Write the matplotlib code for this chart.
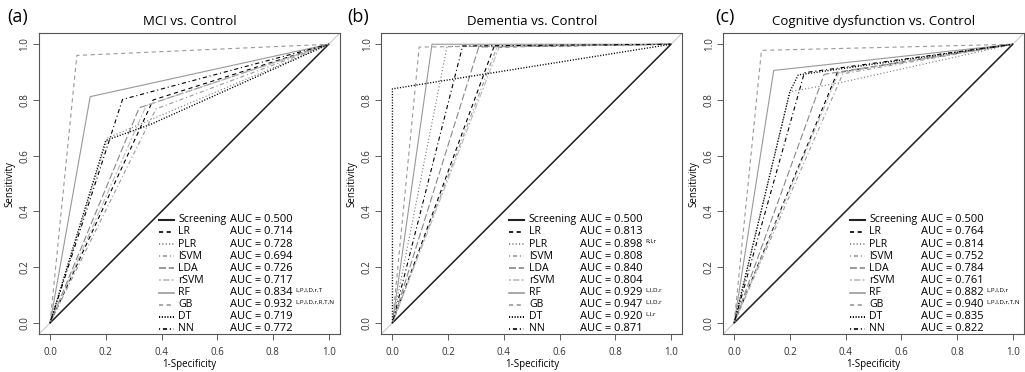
import matplotlib.pyplot as plt

plt.rcParams['font.family'] = ['Open Sans', 'DejaVu Sans']
plt.rcParams['lines.scale_dashes'] = False

# 模型名称与线型
methods = ['Screening', 'LR', 'PLR', 'lSVM', 'LDA', 'rSVM', 'RF', 'GB', 'DT', 'NN']
colors = ['#222222', 'black', '#777777', '#999999', '#888888', '#bbbbbb',
          '#999999', '#999999', 'black', 'black']
styles = ['-', (0, (3, 2.5)), (0, (0.8, 1.6)), (0, (0.8, 2, 3, 2)), (0, (5, 2)),
          (0, (1.5, 1.5, 4.5, 1.5)), '-', (0, (3, 2.5)), (0, (0.8, 1.2)), (0, (0.8, 2, 3, 2))]
widths = [1.1, 0.8, 0.8, 0.8, 0.8, 0.8, 0.8, 0.8, 1.0, 0.8]

titles = ['MCI vs. Control', 'Dementia vs. Control', 'Cognitive dysfunction vs. Control']
panel_tags = ['(a)', '(b)', '(c)']

# (a) MCI vs. Control
mci_fpr = [[0, 1], [0, 0.37, 1], [0, 0.207, 1], [0, 0.38, 1], [0, 0.32, 1], [0, 0.345, 1],
           [0, 0.144, 1], [0, 0.096, 1], [0, 0.2, 0.36, 1], [0, 0.26, 1]]
mci_tpr = [[0, 1], [0, 0.80, 1], [0, 0.664, 1], [0, 0.768, 1], [0, 0.772, 1], [0, 0.78, 1],
           [0, 0.812, 1], [0, 0.96, 1], [0, 0.655, 0.712, 1], [0, 0.802, 1]]
mci_auc = ['0.500', '0.714', '0.728', '0.694', '0.726', '0.717', '0.834', '0.932', '0.719', '0.772']
mci_sup = ['', '', '', '', '', '', 'L,P,l,D,r,T', 'L,P,l,D,r,R,T,N', '', '']

# (b) Dementia vs. Control
dem_fpr = [[0, 1], [0, 0.364, 1], [0, 0.196, 1], [0, 0.376, 1], [0, 0.31, 1], [0, 0.384, 1],
           [0, 0.142, 1], [0, 0.096, 1], [0, 0, 1], [0, 0.252, 1]]
dem_tpr = [[0, 1], [0, 0.99, 1], [0, 0.992, 1], [0, 0.992, 1], [0, 0.99, 1], [0, 0.992, 1],
           [0, 1.0, 1], [0, 0.99, 1], [0, 0.84, 1], [0, 0.994, 1]]
dem_auc = ['0.500', '0.813', '0.898', '0.808', '0.840', '0.804', '0.929', '0.947', '0.920', '0.871']
dem_sup = ['', '', 'R,l,r', '', '', '', 'L,l,D,r', 'L,l,D,r', 'L,l,r', '']

# (c) Cognitive dysfunction vs. Control
cog_fpr = [[0, 1], [0, 0.37, 1], [0, 0.2, 0.38, 1], [0, 0.39, 1], [0, 0.323, 1], [0, 0.375, 1],
           [0, 0.142, 1], [0, 0.098, 1], [0, 0.2, 0.23, 1], [0, 0.252, 1]]
cog_tpr = [[0, 1], [0, 0.898, 1], [0, 0.83, 0.862, 1], [0, 0.894, 1], [0, 0.892, 1], [0, 0.897, 1],
           [0, 0.906, 1], [0, 0.978, 1], [0, 0.83, 0.89, 1], [0, 0.898, 1]]
cog_auc = ['0.500', '0.764', '0.814', '0.752', '0.784', '0.761', '0.882', '0.940', '0.835', '0.822']
cog_sup = ['', '', '', '', '', '', 'L,P,l,D,r', 'L,P,l,D,r,T,N', '', '']

panels = [(mci_fpr, mci_tpr, mci_auc, mci_sup),
          (dem_fpr, dem_tpr, dem_auc, dem_sup),
          (cog_fpr, cog_tpr, cog_auc, cog_sup)]

ticks = [0, 0.2, 0.4, 0.6, 0.8, 1.0]
tick_labels = ['0.0', '0.2', '0.4', '0.6', '0.8', '1.0']

fig = plt.figure(figsize=(10.25, 3.72), dpi=100)
lefts = [0.038, 0.372, 0.7054]
legend_x = [0.39, 0.42, 0.415]
tag_x = [7, 347, 715]

for i, (fpr, tpr, auc, sup) in enumerate(panels):
    ax = fig.add_axes([lefts[i], 0.102, 0.2935, 0.809])
    ax.axline((0, 0), (1, 1), color='#cccccc', lw=0.8, zorder=0)
    for k in range(len(methods)):
        ax.plot(fpr[k], tpr[k], color=colors[k], ls=styles[k], lw=widths[k])

    # 图例（手动绘制）
    x0 = legend_x[i]
    for k in range(len(methods)):
        y = 0.37 - 0.0435 * k
        ax.plot([x0, x0 + 0.054], [y, y], color=colors[k], ls=styles[k], lw=widths[k] + 0.4)
        ax.text(x0 + 0.07, y, methods[k], fontsize=7.6, va='center', ha='left')
        t = ax.text(x0 + 0.255, y, 'AUC = ' + auc[k], fontsize=8, va='center', ha='left')
        if sup[k]:
            ax.annotate(sup[k], xy=(1, 0.5), xycoords=t, xytext=(2, 0),
                        textcoords='offset points', fontsize=4.5, va='bottom', ha='left')

    ax.set_xlim(-0.04, 1.04)
    ax.set_ylim(-0.04, 1.04)
    ax.set_xticks(ticks)
    ax.set_xticklabels(tick_labels)
    ax.set_yticks(ticks)
    ax.set_yticklabels(tick_labels, rotation=90, va='center')
    ax.tick_params(direction='out', length=4, width=0.6, labelsize=7,
                   colors='#444444', labelcolor='#333333')
    ax.tick_params(axis='x', pad=5)
    ax.tick_params(axis='y', pad=2)
    for s in ax.spines.values():
        s.set_linewidth(0.8)
        s.set_color('#555555')
    ax.set_xlabel('1-Specificity', fontsize=7, labelpad=1)
    ax.set_ylabel('Sensitivity', fontsize=7, labelpad=3)
    ax.set_title(titles[i], fontsize=9.5, pad=6)
    fig.text(tag_x[i] / 1025, 1 - 17 / 372, panel_tags[i], fontsize=13, ha='left', va='center')

fig.savefig('out.png', dpi=100)
